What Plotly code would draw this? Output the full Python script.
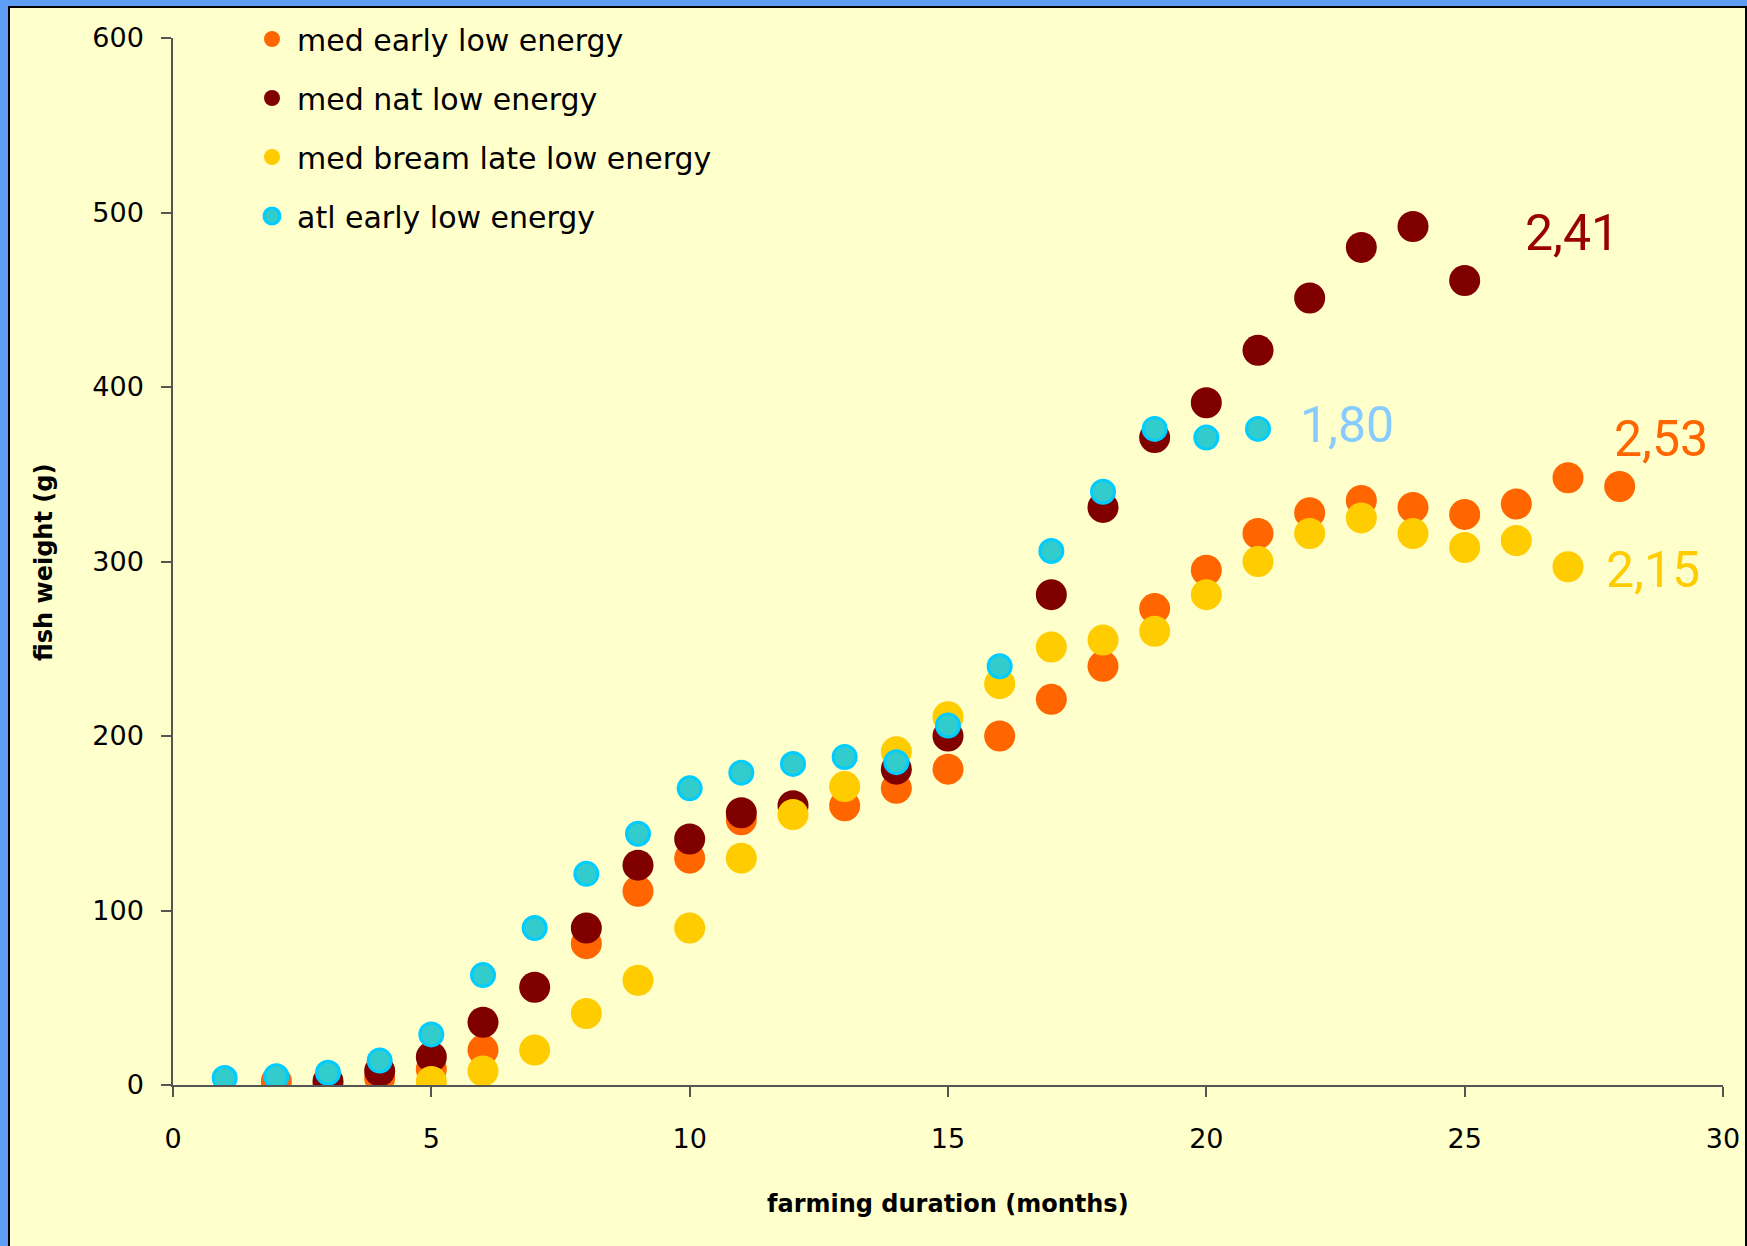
import plotly.graph_objects as go

# Fish weight (g) by farming month for each production strategy
months_med_early = [2, 4, 5, 6, 8, 9, 10, 11, 13, 14, 15, 16, 17, 18, 19, 20, 21, 22, 23, 24, 25, 26, 27, 28]
weight_med_early = [2, 4, 9, 20, 81, 111, 130, 152, 160, 170, 181, 200, 221, 240, 273, 295, 316, 328, 335, 331, 327, 333, 348, 343]

months_med_nat = [3, 4, 5, 6, 7, 8, 9, 10, 11, 12, 14, 15, 17, 18, 19, 20, 21, 22, 23, 24, 25]
weight_med_nat = [2, 8, 16, 36, 56, 90, 126, 141, 156, 160, 181, 200, 281, 331, 371, 391, 421, 451, 480, 492, 461]

months_bream_late = [5, 6, 7, 8, 9, 10, 11, 12, 13, 14, 15, 16, 17, 18, 19, 20, 21, 22, 23, 24, 25, 26, 27]
weight_bream_late = [2, 8, 20, 41, 60, 90, 130, 155, 171, 191, 211, 230, 251, 255, 260, 281, 300, 316, 325, 316, 308, 312, 297]

months_atl_early = [1, 2, 3, 4, 5, 6, 7, 8, 9, 10, 11, 12, 13, 14, 15, 16, 17, 18, 19, 20, 21]
weight_atl_early = [4, 5, 7, 14, 29, 63, 90, 121, 144, 170, 179, 184, 188, 185, 206, 240, 306, 340, 376, 371, 376]

series_names = ["med early low energy", "med nat low energy", "med bream late low energy", "atl early low energy"]
fcr_labels = ["2,53", "2,41", "2,15", "1,80"]
x_title = "farming duration (months)"
y_title = "fish weight (g)"

W, H = 1747, 1246
ML, MR, MT, MB = 173, 24, 38, 161
PW, PH = W - ML - MR, H - MT - MB


def px_to_paper_x(px):
    return (px - ML) / PW


def px_to_paper_y(py):
    return (H - MB - py) / PH


fig = go.Figure()

fig.add_trace(go.Scatter(
    x=months_med_early, y=weight_med_early, mode="markers", name=series_names[0],
    legendgroup="g1",
    marker=dict(size=31, color="#FF6600", line=dict(width=0)),
))
fig.add_trace(go.Scatter(
    x=months_med_nat, y=weight_med_nat, mode="markers", name=series_names[1],
    legendgroup="g2",
    marker=dict(size=31, color="#800000", line=dict(width=0)),
))
fig.add_trace(go.Scatter(
    x=months_bream_late, y=weight_bream_late, mode="markers", name=series_names[2],
    legendgroup="g3",
    marker=dict(size=31, color="#FFCC00", line=dict(width=0)),
))
fig.add_trace(go.Scatter(
    x=months_atl_early, y=weight_atl_early, mode="markers", name=series_names[3],
    legendgroup="g4",
    marker=dict(size=23, color="#33CCCC", line=dict(width=3, color="#00CCFF")),
))

label_font = "Roboto"
fig.add_annotation(x=28.8, y=370, text=fcr_labels[0], showarrow=False,
                   font=dict(family=label_font, size=50, color="#FF6600"))
fig.add_annotation(x=27.07, y=488, text=fcr_labels[1], showarrow=False,
                   font=dict(family=label_font, size=50, color="#990000"))
fig.add_annotation(x=28.64, y=295, text=fcr_labels[2], showarrow=False,
                   font=dict(family=label_font, size=50, color="#FFCC00"))
fig.add_annotation(x=22.73, y=378, text=fcr_labels[3], showarrow=False,
                   font=dict(family=label_font, size=50, color="#88CCFF"))

# axis titles
title_font = dict(family="DejaVu Sans", size=24, color="black")
fig.add_annotation(xref="paper", yref="paper", x=px_to_paper_x(948), y=px_to_paper_y(1204),
                   text="<b>" + x_title + "</b>", showarrow=False, font=title_font,
                   xanchor="center", yanchor="middle")
fig.add_annotation(xref="paper", yref="paper", x=px_to_paper_x(44), y=px_to_paper_y(563),
                   text="<b>" + y_title + "</b>", showarrow=False, font=title_font,
                   textangle=-90, xanchor="center", yanchor="middle")

# pale yellow panel framed in black over the blue backdrop
fig.add_shape(type="rect", xref="paper", yref="paper", layer="below",
              x0=px_to_paper_x(9), x1=px_to_paper_x(1746),
              y0=px_to_paper_y(1260), y1=px_to_paper_y(7),
              fillcolor="#FFFFCC", line=dict(color="black", width=2))

axis_common = dict(
    showgrid=False, zeroline=False, showline=True, linecolor="#555555", linewidth=1.5,
    ticks="outside", ticklen=10, tickwidth=1.5, tickcolor="#555555",
    tickfont=dict(family="DejaVu Sans", size=27, color="black"),
)

fig.update_layout(
    width=W, height=H,
    margin=dict(l=ML, r=MR, t=MT, b=MB, autoexpand=False),
    paper_bgcolor="#5E9EF4",
    plot_bgcolor="rgba(0,0,0,0)",
    font=dict(family="DejaVu Sans", color="black"),
    xaxis=dict(range=[0, 30], dtick=5, tick0=0, ticklabelstandoff=19, **axis_common),
    yaxis=dict(range=[0, 600], dtick=100, tick0=0, ticklabelstandoff=12, **axis_common),
    legend=dict(
        xref="container", yref="container",
        x=247 / W, y=1 - 13 / H, xanchor="left", yanchor="top",
        bgcolor="rgba(0,0,0,0)", borderwidth=0,
        font=dict(family="DejaVu Sans", size=30, color="black"),
        traceorder="grouped", tracegroupgap=17, itemwidth=40,
    ),
    showlegend=True,
)

fig.write_html("out.html")
